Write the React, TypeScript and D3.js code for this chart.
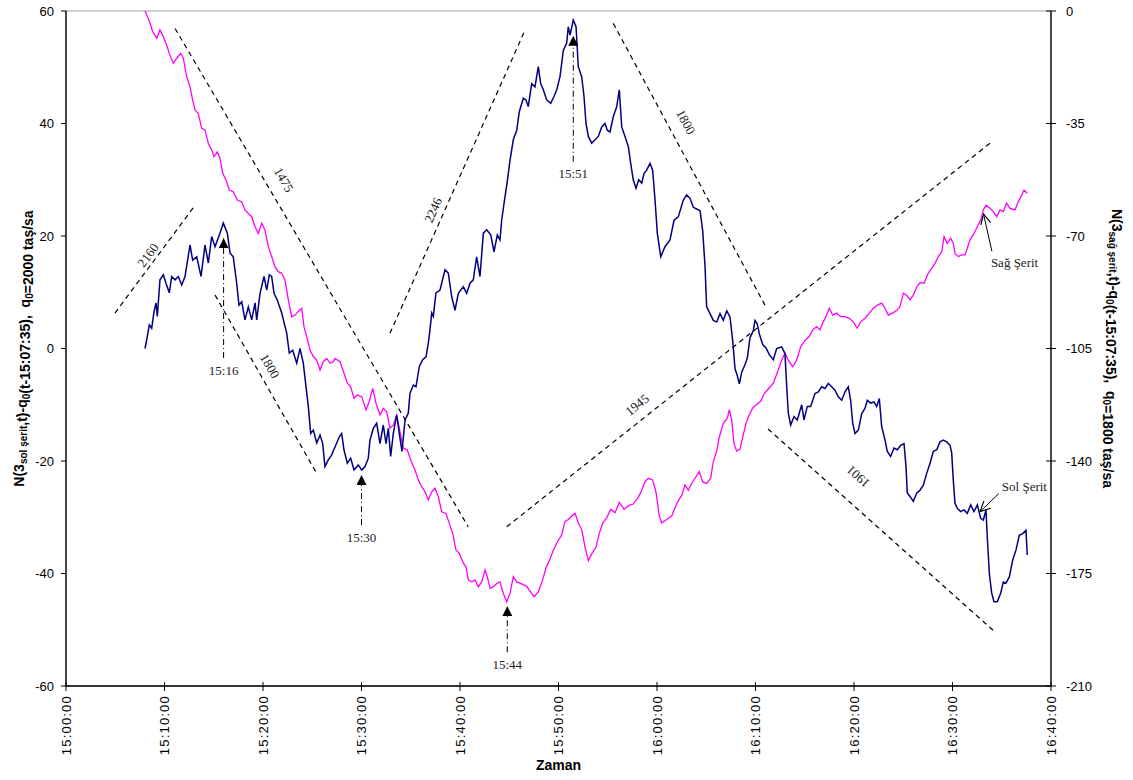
import React from 'react';
import * as d3 from 'd3';

// ---- Data (minutes after 15:00:00, values) ----
// Sol Şerit (left axis)
const solTime = [8.02,8.19,8.46,8.70,8.93,9.14,9.27,9.54,9.88,10.15,10.49,10.73,11.07,11.40,11.75,12.08,12.59,12.86,13.27,13.71,14.11,14.45,14.79,15.13,15.63,15.97,16.38,16.65,16.98,17.33,17.56,17.84,18.17,18.51,18.85,19.19,19.36,19.70,20.10,20.38,20.64,20.88,21.12,21.45,21.90,22.41,22.67,23.02,23.42,23.76,24.09,24.44,24.60,24.84,25.11,25.45,25.79,26.06,26.29,26.63,26.97,27.31,27.75,27.99,28.22,28.56,28.90,29.24,29.67,30.02,30.36,30.69,30.86,31.20,31.54,31.88,32.21,32.49,32.72,32.96,33.23,33.57,33.91,34.11,34.42,34.75,34.92,35.26,35.53,35.87,36.21,36.55,36.78,36.95,37.13,37.29,37.56,37.97,38.48,38.81,39.16,39.49,39.83,40.34,40.68,41.02,41.35,41.69,42.03,42.37,42.71,43.12,43.45,43.79,44.06,44.23,44.57,44.80,45.08,45.41,45.76,46.02,46.43,46.70,46.93,47.28,47.61,47.95,48.19,48.46,48.80,49.21,49.54,49.82,50.15,50.49,50.83,50.99,51.17,51.50,51.78,52.01,52.36,52.59,52.79,53.03,53.37,53.71,54.04,54.39,54.72,54.95,55.23,55.56,55.91,56.17,56.42,56.75,57.09,57.33,57.59,57.87,58.14,58.45,58.68,58.95,59.29,59.56,59.80,60.03,60.38,60.81,61.32,61.73,62.16,62.67,63.01,63.35,63.69,64.03,64.37,64.64,64.87,65.04,65.38,65.72,66.06,66.40,66.73,67.08,67.41,67.69,67.92,68.15,68.36,68.60,68.93,69.17,69.44,69.78,69.95,70.18,70.39,70.73,71.07,71.40,71.81,72.15,72.66,72.99,73.17,73.33,73.57,73.91,74.24,74.69,74.92,75.26,75.60,76.04,76.38,76.72,77.06,77.39,77.74,78.07,78.41,78.75,79.09,79.42,79.66,79.87,80.10,80.44,80.78,81.12,81.35,81.70,82.03,82.30,82.57,82.81,83.15,83.38,83.72,84.06,84.40,84.74,85.08,85.28,85.41,85.69,86.02,86.37,86.70,87.04,87.38,87.72,88.05,88.40,88.73,89.07,89.41,89.75,89.92,90.08,90.25,90.49,90.83,91.17,91.50,91.85,92.18,92.52,92.86,93.13,93.40,93.53,93.74,93.98,94.21,94.55,94.89,95.16,95.43,95.77,96.11,96.45,96.78,97.13,97.46,97.59];
const solValue = [0.0,1.5,4.2,3.6,6.5,8.1,5.7,12.2,13.1,11.6,9.9,12.8,12.2,12.8,11.3,12.8,18.4,15.7,16.3,12.8,18.4,15.2,19.9,18.1,20.5,22.3,20.5,17.0,16.3,11.6,7.7,8.3,5.1,7.4,5.1,8.1,5.1,9.8,12.8,10.4,13.1,12.8,9.8,8.6,6.3,2.7,-0.8,-0.3,-2.6,0.0,-2.6,-7.9,-10.3,-15.1,-14.5,-16.8,-15.4,-16.9,-21.0,-19.8,-18.9,-17.5,-15.7,-15.1,-18.0,-20.4,-19.5,-21.6,-20.7,-21.6,-21.0,-19.5,-16.3,-14.2,-13.3,-16.9,-13.6,-16.9,-14.2,-19.2,-15.1,-11.8,-16.0,-18.3,-12.7,-11.5,-8.0,-6.5,-6.8,-3.2,-2.0,-1.5,0.9,3.3,6.3,5.7,9.9,10.4,14.0,13.4,9.2,6.8,9.8,11.0,9.8,11.6,12.2,16.3,12.8,20.5,21.1,20.2,17.2,20.2,19.3,22.8,27.0,29.7,33.5,37.1,38.8,42.1,44.5,44.2,43.0,47.1,46.5,50.1,47.1,46.0,44.2,43.6,44.8,46.0,48.3,53.0,54.3,57.2,55.7,58.4,57.2,50.1,48.3,44.8,40.0,37.7,36.5,37.1,37.7,39.4,40.0,38.8,38.5,41.2,43.0,46.0,39.4,37.7,35.9,32.9,30.0,28.5,30.0,29.4,31.1,31.7,32.9,31.7,26.4,20.5,16.3,18.1,19.3,22.8,23.4,26.4,27.3,26.7,25.1,24.8,24.5,20.9,14.8,7.4,6.2,5.0,4.7,6.2,5.0,6.7,5.6,1.3,-3.6,-4.8,-6.3,-4.2,-2.9,-1.7,1.9,3.2,5.0,4.4,2.6,0.7,0.1,-1.1,-2.0,0.0,0.3,-0.9,-6.8,-11.5,-13.6,-12.1,-12.7,-10.0,-12.7,-10.3,-10.3,-8.0,-7.7,-6.8,-7.1,-6.2,-6.8,-7.4,-8.6,-9.2,-7.7,-6.8,-9.2,-13.3,-15.1,-14.5,-11.6,-10.6,-9.2,-9.7,-9.5,-10.3,-8.9,-13.9,-16.3,-18.3,-19.2,-17.7,-18.0,-17.2,-16.9,-21.0,-25.7,-26.3,-27.2,-25.7,-25.2,-24.3,-22.2,-20.4,-18.3,-18.0,-16.6,-16.3,-16.6,-17.2,-18.6,-23.4,-27.5,-28.4,-29.0,-28.7,-29.3,-27.8,-29.0,-27.8,-30.2,-30.5,-28.7,-33.5,-40.0,-43.5,-45.0,-45.0,-43.5,-41.5,-41.7,-40.6,-37.6,-35.8,-33.2,-32.9,-32.3,-36.7];

// Sağ Şerit (right axis)
const sagTime = [8.02,8.36,8.80,9.21,9.54,9.88,10.22,10.49,10.89,11.24,11.64,11.91,12.25,12.59,12.86,13.10,13.43,13.78,14.11,14.45,14.79,15.03,15.36,15.63,15.91,16.24,16.58,16.98,17.39,17.84,18.17,18.51,18.85,19.19,19.52,19.87,20.20,20.54,20.88,21.22,21.55,21.90,22.23,22.57,22.91,23.25,23.58,23.93,24.16,24.44,24.77,25.11,25.45,25.79,26.12,26.47,26.80,27.14,27.31,27.82,28.22,28.56,28.90,29.24,29.57,30.02,30.46,30.79,31.14,31.47,31.88,32.21,32.56,32.89,33.23,33.57,33.91,34.24,34.65,34.99,35.43,35.77,36.11,36.45,36.78,37.13,37.46,37.80,38.14,38.58,38.91,39.26,39.59,39.93,40.34,40.61,40.84,41.19,41.52,41.86,42.20,42.54,42.77,43.05,43.38,43.73,44.06,44.40,44.74,45.08,45.41,45.76,46.09,46.77,47.51,47.95,48.40,48.73,49.14,49.47,49.88,50.32,50.66,50.99,51.34,51.68,52.01,52.36,52.69,53.03,53.37,53.81,54.14,54.49,54.89,55.30,55.74,56.17,56.65,57.09,57.59,58.10,58.45,58.78,59.12,59.56,59.90,60.23,60.48,60.99,61.49,61.83,62.16,62.51,62.84,63.18,63.52,63.96,64.29,64.64,65.04,65.45,65.72,66.06,66.32,66.73,67.14,67.34,67.58,67.82,68.09,68.43,68.70,69.04,69.37,69.72,70.12,70.53,70.86,71.30,71.81,72.31,72.66,72.99,73.33,73.78,74.18,74.59,75.03,75.46,75.81,76.21,76.55,76.88,77.16,77.49,77.84,78.24,78.65,79.09,79.52,79.93,80.33,80.68,81.12,81.55,81.96,82.36,82.81,83.15,83.48,83.93,84.33,84.67,85.01,85.35,85.69,86.02,86.37,86.70,87.11,87.54,87.89,88.22,88.56,88.91,89.14,89.47,89.82,90.08,90.25,90.59,90.93,91.27,91.50,91.78,92.18,92.52,92.86,93.13,93.40,93.81,94.14,94.49,94.82,95.16,95.50,95.84,96.35,96.68,97.03,97.26,97.59];
const sagValue = [0.0,-2.3,-6.4,-8.5,-5.9,-8.0,-10.6,-13.2,-16.3,-14.7,-13.2,-14.7,-20.4,-23.5,-27.7,-30.8,-31.9,-36.5,-37.0,-41.2,-43.2,-45.3,-43.8,-45.8,-50.5,-52.6,-55.7,-56.2,-58.8,-59.4,-61.9,-63.0,-64.0,-67.1,-69.2,-66.0,-68.1,-73.3,-76.4,-79.6,-81.1,-81.6,-83.7,-89.9,-95.1,-94.6,-93.5,-92.5,-98.2,-101.3,-105.5,-107.5,-108.6,-111.7,-109.1,-108.1,-109.6,-109.1,-108.1,-109.1,-112.7,-115.8,-116.9,-120.5,-119.5,-120.0,-124.1,-121.5,-117.4,-122.0,-125.7,-123.6,-124.7,-129.8,-128.8,-125.7,-130.9,-136.0,-136.6,-139.7,-142.8,-145.9,-148.0,-149.6,-152.1,-149.6,-148.5,-151.1,-155.8,-156.3,-159.4,-162.5,-167.7,-168.7,-171.8,-172.9,-177.0,-177.6,-177.0,-179.1,-177.6,-173.9,-176.0,-179.6,-179.1,-178.1,-177.6,-181.2,-183.8,-181.2,-176.0,-177.6,-178.0,-179.0,-182.2,-180.7,-176.9,-173.2,-170.5,-167.8,-165.2,-163.0,-158.8,-158.2,-157.1,-156.3,-159.3,-161.4,-166.8,-171.0,-168.9,-166.8,-162.5,-159.3,-157.7,-155.0,-156.1,-152.9,-155.0,-153.9,-153.4,-151.3,-149.1,-146.5,-145.4,-145.9,-149.7,-157.1,-159.3,-158.2,-157.1,-154.5,-152.3,-150.7,-147.5,-149.1,-147.0,-144.9,-143.3,-146.5,-147.0,-145.4,-140.1,-136.9,-132.6,-128.3,-126.7,-124.0,-127.2,-134.7,-136.9,-136.3,-132.6,-128.3,-125.6,-123.5,-122.4,-121.4,-119.2,-117.6,-115.8,-111.7,-108.6,-106.5,-108.6,-110.7,-108.6,-104.4,-102.4,-101.3,-99.2,-98.2,-99.2,-96.7,-95.1,-92.5,-94.6,-94.0,-95.1,-95.1,-95.6,-96.7,-98.7,-96.7,-95.6,-94.0,-92.5,-91.5,-90.9,-92.5,-94.6,-94.0,-93.2,-92.0,-87.8,-88.4,-89.9,-88.4,-85.8,-84.5,-84.7,-81.6,-80.0,-78.5,-76.4,-74.9,-70.2,-72.3,-70.7,-72.3,-75.4,-76.4,-75.9,-75.9,-73.8,-71.2,-69.2,-67.1,-65.0,-61.9,-60.4,-61.4,-62.4,-64.0,-61.9,-62.4,-59.8,-61.4,-61.9,-59.3,-57.2,-55.7,-56.7];

// Axis ticks
const xTicks = [0, 10, 20, 30, 40, 50, 60, 70, 80, 90, 100];
const leftTicks = [-60, -40, -20, 0, 20, 40, 60];
const rightTicks = [-210, -175, -140, -105, -70, -35, 0];

// Trend lines (time, left-axis value) and their labels
const trendLabels = ['2160', '1475', '1800', '2246', '1800', '1945', '1901'];
const trendStart = [[4.97, 6.3], [11.07, 56.9], [15.13, 9.5], [32.89, 2.7], [55.56, 57.8], [44.74, -31.7], [71.27, -14.3]];
const trendEnd = [[13.0, 25.2], [40.84, -31.7], [25.45, -22.2], [46.6, 56.6], [70.96, 7.7], [93.81, 36.5], [94.31, -50.4]];
const trendLabelPos = [[8.32, 16.6], [22.13, 30.0], [20.71, -3.1], [37.26, 24.6], [62.94, 40.3], [57.97, -10.0], [80.41, -22.8]];
const trendLabelFlip = [false, false, false, false, false, false, true];

// Time markers (time, tip value, tail value)
const markerLabels = ['15:16', '15:30', '15:44', '15:51'];
const markerTime = [16.0, 30.0, 44.8, 51.5];
const markerTip = [19.6, -22.5, -45.8, 55.6];
const markerTail = [-1.7, -31.4, -54.0, 33.2];

// Series labels (text pos, arrow from, arrow to) in (time, left value)
const seriesNames = ['Sağ Şerit', 'Sol Şerit'];
const seriesTextPos = [[96.3, 15.3], [97.3, -24.6]];
const seriesArrowFrom = [[94.0, 17.3], [94.7, -25.8]];
const seriesArrowTo = [[93.15, 23.9], [92.8, -29.0]];

const W = 1133;
const H = 780;
const L = 66, R = 1051, T = 11, B = 686;

const fmtTime = (m: number) => {
  const h = 15 + Math.floor(m / 60);
  const mm = m % 60;
  return `${h}:${mm < 10 ? '0' + mm : mm}:00`;
};

export default function App() {
  const x = d3.scaleLinear().domain([0, 100]).range([L, R]);
  const yL = d3.scaleLinear().domain([-60, 60]).range([B, T]);
  const yR = d3.scaleLinear().domain([-210, 0]).range([B, T]);

  const solLine = d3.line<number>().x((_, i) => x(solTime[i])).y((d) => yL(d));
  const sagLine = d3.line<number>().x((_, i) => x(sagTime[i])).y((d) => yR(d));

  const serif = "'Liberation Serif', 'Times New Roman', serif";
  const sans = "'Liberation Sans', Arial, sans-serif";
  const narrow = "'Liberation Sans Narrow', 'Arial Narrow', 'Liberation Sans', sans-serif";

  const sub = (t: string) => [
    <tspan key="a" dy={3} fontSize={10}>{t}</tspan>,
    <tspan key="b" dy={-3}>{''}</tspan>,
  ];

  return (
    <svg width={W} height={H} style={{ position: 'absolute', left: 0, top: 0, background: '#fff' }}>
      <defs>
        <marker id="tri" viewBox="0 0 10 10" refX="10" refY="5" markerWidth="10" markerHeight="10" markerUnits="userSpaceOnUse" orient="auto">
          <path d="M0,0 L10,5 L0,10 z" fill="#000" />
        </marker>
        <marker id="open" viewBox="0 0 12 12" refX="11" refY="6" markerWidth="12" markerHeight="12" markerUnits="userSpaceOnUse" orient="auto">
          <path d="M1,1 L11,6 L1,11" fill="none" stroke="#000" strokeWidth={1.2} />
        </marker>
      </defs>

      {/* plot frame */}
      <rect x={L} y={T} width={R - L} height={B - T} fill="none" stroke="#a0a0a0" strokeWidth={1} />
      <line x1={L} y1={T} x2={L} y2={B} stroke="#000" strokeWidth={1.3} />
      <line x1={R} y1={T} x2={R} y2={B} stroke="#000" strokeWidth={1.3} />
      <line x1={L} y1={B} x2={R} y2={B} stroke="#000" strokeWidth={1.3} />

      {/* left axis */}
      {leftTicks.map((t) => (
        <g key={'l' + t}>
          <line x1={L - 5} x2={L} y1={yL(t)} y2={yL(t)} stroke="#000" />
          <text x={L - 12} y={yL(t)} dy="0.35em" textAnchor="end" fontFamily={sans} fontSize={13}>{t}</text>
        </g>
      ))}
      {/* right axis */}
      {rightTicks.map((t) => (
        <g key={'r' + t}>
          <line x1={R - 5} x2={R + 5} y1={yR(t)} y2={yR(t)} stroke="#000" />
          <text x={R + 15} y={yR(t)} dy="0.35em" textAnchor="start" fontFamily={sans} fontSize={13}>{t}</text>
        </g>
      ))}
      {/* x axis */}
      {xTicks.map((t) => (
        <g key={'x' + t}>
          <line x1={x(t)} x2={x(t)} y1={B - 4} y2={B + 5} stroke="#000" />
          <text transform={`translate(${x(t)},${B + 9}) rotate(-90)`} dy="0.35em" textAnchor="end" fontFamily={sans} fontSize={13} letterSpacing={1.2}>{fmtTime(t)}</text>
        </g>
      ))}

      {/* axis titles */}
      <text transform={`translate(19,${(T + B) / 2}) rotate(-90)`} textAnchor="middle" dy="0.35em" fontFamily={narrow} fontWeight="bold" fontSize={14} style={{ whiteSpace: 'pre' }}>
        N(3{sub('sol şerit')},t)-q{sub('0')}(t-15:07:35),  q{sub('0')}=2000 taş/sa
      </text>
      <text transform={`translate(1117,${(T + B) / 2}) rotate(90)`} textAnchor="middle" dy="0.35em" fontFamily={narrow} fontWeight="bold" fontSize={14} style={{ whiteSpace: 'pre' }}>
        N(3{sub('sağ şerit')},t)-q{sub('0')}(t-15:07:35),  q{sub('0')}=1800 taş/sa
      </text>
      <text x={(L + R) / 2} y={770} textAnchor="middle" fontFamily={narrow} fontWeight="bold" fontSize={14}>Zaman</text>

      {/* trend lines */}
      {trendLabels.map((lab, i) => {
        const x1 = x(trendStart[i][0]), y1 = yL(trendStart[i][1]);
        const x2 = x(trendEnd[i][0]), y2 = yL(trendEnd[i][1]);
        let ang = (Math.atan2(y2 - y1, x2 - x1) * 180) / Math.PI;
        if (ang > 90) ang -= 180;
        if (ang < -90) ang += 180;
        if (trendLabelFlip[i]) ang += 180;
        const lx = x(trendLabelPos[i][0]), ly = yL(trendLabelPos[i][1]);
        return (
          <g key={'tr' + i}>
            <line x1={x1} y1={y1} x2={x2} y2={y2} stroke="#000" strokeWidth={1.2} strokeDasharray="5,4" />
            <text transform={`translate(${lx},${ly}) rotate(${ang})`} textAnchor="middle" dy="0.35em" fontFamily={serif} fontSize={13} fill="#222">{lab}</text>
          </g>
        );
      })}

      {/* series */}
      <path d={sagLine(sagValue) || ''} fill="none" stroke="#ff00ff" strokeWidth={1.3} />
      <path d={solLine(solValue) || ''} fill="none" stroke="#000080" strokeWidth={1.5} />

      {/* time markers */}
      {markerLabels.map((lab, i) => {
        const mx = x(markerTime[i]);
        return (
          <g key={'m' + i}>
            <line x1={mx} x2={mx} y1={yL(markerTail[i])} y2={yL(markerTip[i])} stroke="#000" strokeWidth={1} strokeDasharray="6,3,1,3" markerEnd="url(#tri)" />
            <text x={mx} y={yL(markerTail[i]) + 12} dy="0.35em" textAnchor="middle" fontFamily={serif} fontSize={13} fill="#222">{lab}</text>
          </g>
        );
      })}

      {/* series labels */}
      {seriesNames.map((n, i) => (
        <g key={'s' + i}>
          <line x1={x(seriesArrowFrom[i][0])} y1={yL(seriesArrowFrom[i][1])} x2={x(seriesArrowTo[i][0])} y2={yL(seriesArrowTo[i][1])} stroke="#000" strokeWidth={1} markerEnd="url(#open)" />
          <text x={x(seriesTextPos[i][0])} y={yL(seriesTextPos[i][1])} dy="0.35em" textAnchor="middle" fontFamily={serif} fontSize={13} fill="#222">{n}</text>
        </g>
      ))}
    </svg>
  );
}
